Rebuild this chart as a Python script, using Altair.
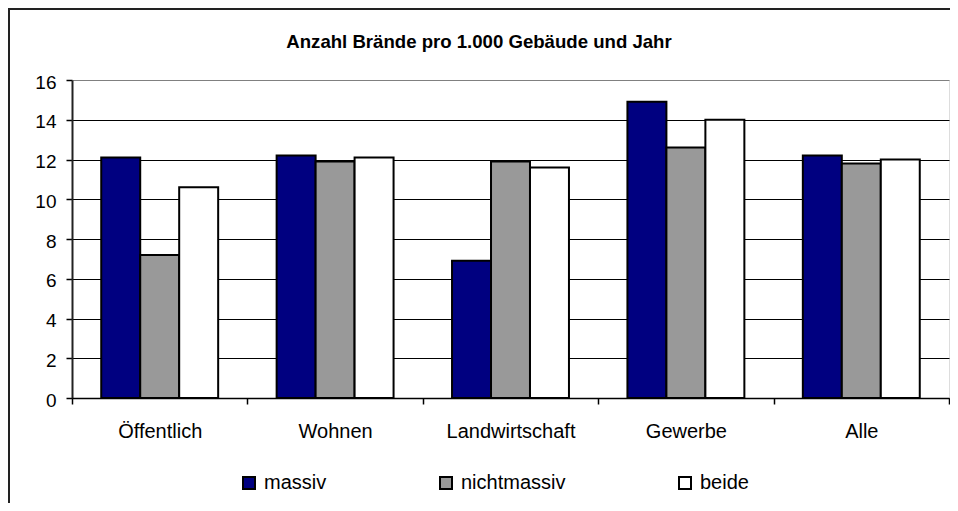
import altair as alt
import pandas as pd

categories = ["Öffentlich", "Wohnen", "Landwirtschaft", "Gewerbe", "Alle"]
series = ["massiv", "nichtmassiv", "beide"]
massiv = [12.1, 12.2, 6.9, 14.9, 12.2]
nichtmassiv = [7.2, 11.9, 11.9, 12.6, 11.8]
beide = [10.6, 12.1, 11.6, 14.0, 12.0]
colors = ["#000080", "#999999", "#ffffff"]
y_ticks = [0, 2, 4, 6, 8, 10, 12, 14, 16]
title_text = "Anzahl Brände pro 1.000 Gebäude und Jahr"

rows = []
for i, c in enumerate(categories):
    for s, vals in zip(series, [massiv, nichtmassiv, beide]):
        rows.append({"Kategorie": c, "Bauart": s, "Wert": vals[i]})
df = pd.DataFrame(rows)

W, H = 877, 318
FONT = "Liberation Sans"

bars = alt.Chart(df).mark_bar(stroke="black", strokeWidth=2).encode(
    x=alt.X(
        "Kategorie:N",
        sort=categories,
        scale=alt.Scale(paddingInner=0, paddingOuter=0),
        axis=alt.Axis(
            title=None, labelAngle=0, tickBand="extent", tickSize=6,
            labelPadding=17, labelFontSize=20, labelFont=FONT, labelColor="black",
            domainColor="black", domainWidth=1.5, tickColor="black", tickWidth=1.5,
            grid=False, zindex=1,
        ),
    ),
    xOffset=alt.XOffset(
        "Bauart:N", sort=series,
        scale=alt.Scale(paddingInner=0, paddingOuter=0.75),
    ),
    y=alt.Y(
        "Wert:Q",
        scale=alt.Scale(domain=[0, 16], nice=False),
        axis=alt.Axis(
            title=None, values=y_ticks, tickSize=6, labelPadding=10,
            labelFontSize=19, labelFont=FONT, labelColor="black",
            domainColor="#222222", domainWidth=2, tickColor="black", tickWidth=1.5,
            grid=True, gridWidth=1.2,
            gridColor=alt.condition("datum.value >= 16", alt.value("#808080"), alt.value("black")),
            labelOffset=2,
        ),
    ),
    fill=alt.Fill(
        "Bauart:N", sort=series,
        scale=alt.Scale(domain=series, range=colors),
        legend=alt.Legend(
            title=None, orient="none", legendX=167, legendY=393,
            direction="horizontal", symbolType="square", symbolSize=144,
            symbolStrokeColor="black", symbolStrokeWidth=2,
            labelFontSize=20, labelFont=FONT, labelColor="black",
            labelOffset=5, columnPadding=109,
        ),
    ),
)

frame = alt.Chart(alt.Data(values=[{}])).mark_rect(
    filled=False, stroke="#222222", strokeWidth=2
).encode(
    x=alt.value(-63), x2=alt.value(920), y=alt.value(-71), y2=alt.value(460)
)

title = alt.Chart(alt.Data(values=[{"t": title_text}])).mark_text(
    fontSize=18.6, fontWeight="bold", font=FONT, baseline="alphabetic", align="center", color="black"
).encode(
    text="t:N", x=alt.value(407), y=alt.value(-32.5)
)

chart = alt.layer(frame, bars, title).properties(
    width=W, height=H,
    autosize=alt.AutoSizeParams(type="none"),
    padding={"left": 64, "top": 72, "right": 1, "bottom": 105},
).configure_view(
    stroke="#808080", strokeWidth=2
).configure(background="white")

chart.save("out.html", embed_options={"renderer": "svg", "actions": False})
